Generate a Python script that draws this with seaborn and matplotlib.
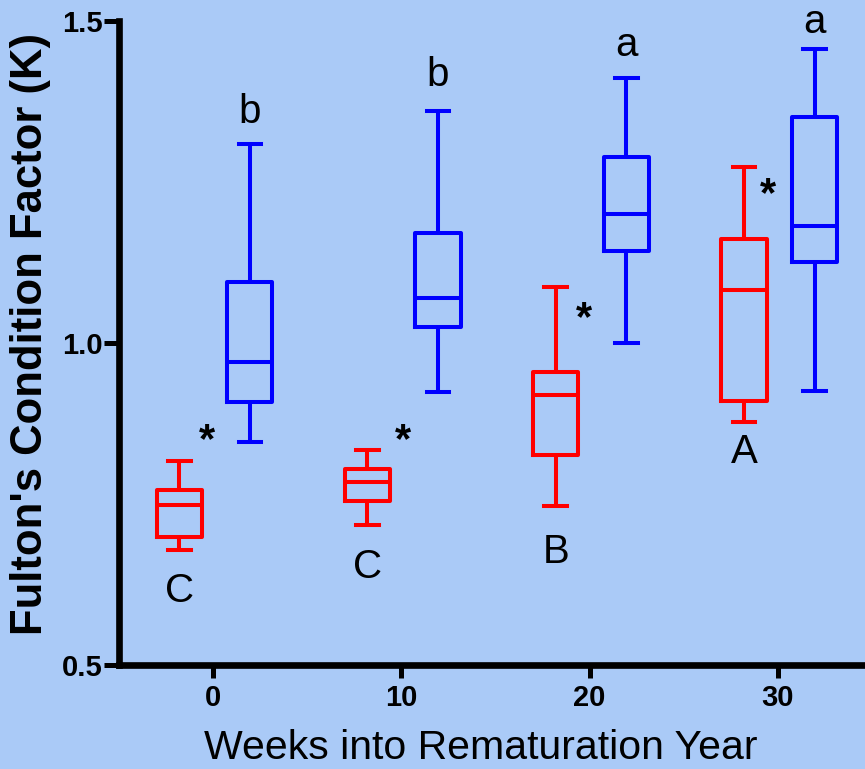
import numpy as np
import pandas as pd
import seaborn as sns
import matplotlib
matplotlib.use("Agg")
import matplotlib.pyplot as plt

# ---- data (five-number summaries) ----
weeks = [0, 10, 20, 30]
groups = ["Red", "Blue"]

red_min = [0.679, 0.717, 0.747, 0.878]
red_q1 = [0.699, 0.755, 0.826, 0.910]
red_med = [0.748, 0.784, 0.920, 1.082]
red_q3 = [0.772, 0.804, 0.955, 1.161]
red_max = [0.817, 0.834, 1.087, 1.274]

blue_min = [0.847, 0.924, 1.000, 0.926]
blue_q1 = [0.909, 1.025, 1.143, 1.126]
blue_med = [0.971, 1.070, 1.200, 1.181]
blue_q3 = [1.095, 1.171, 1.289, 1.351]
blue_max = [1.309, 1.360, 1.412, 1.457]

red_letters = ["C", "C", "B", "A"]
red_letter_y = [0.598, 0.635, 0.658, 0.813]
blue_letters = ["b", "b", "a", "a"]
blue_letter_y = [1.342, 1.399, 1.445, 1.481]
star_x = [-0.35, 10.1, 19.7, 29.5]
star_y = [0.830, 0.830, 1.020, 1.212]

xticks = [0, 10, 20, 30]
yticks = [0.5, 1.0, 1.5]
ytick_labels = ["0.5", "1.0", "1.5"]

# horizontal placement of each group's box relative to its week (style)
offsets = {"Red": -1.8, "Blue": 1.95}

rows = []
for g, stats in (("Red", (red_min, red_q1, red_med, red_q3, red_max)),
                 ("Blue", (blue_min, blue_q1, blue_med, blue_q3, blue_max))):
    for i, w in enumerate(weeks):
        for s in stats:
            rows.append({"week": w, "pos": w + offsets[g], "group": g, "K": s[i]})
df = pd.DataFrame(rows)

bg = "#AACAF7"
fig = plt.figure(figsize=(8.65, 7.69), dpi=100, facecolor=bg)
ax = fig.add_axes([119 / 865, 104 / 769, 753 / 865, 644 / 769])
ax.set_facecolor(bg)

sns.boxplot(data=df, x="pos", y="K", hue="group", hue_order=groups,
            palette={"Red": "#FF0000", "Blue": "#0000FF"},
            native_scale=True, dodge=False, width=2.4 / 3.75,
            whis=(0, 100), fill=False, linewidth=2.9, legend=False, ax=ax)

ax.set_xlim(-5, 35)
ax.set_ylim(0.5, 1.5)

for sp in ("top", "right"):
    ax.spines[sp].set_visible(False)
for sp in ("left", "bottom"):
    ax.spines[sp].set_linewidth(4.8)
    ax.spines[sp].set_color("black")

ax.tick_params(axis="x", length=9.5, width=3.6, pad=4, direction="out", labelsize=21)
ax.tick_params(axis="y", length=10.5, width=3.6, pad=1.5, direction="out", labelsize=21)
ax.set_xticks(xticks)
ax.set_xticklabels([str(t) for t in xticks])
ax.set_yticks(yticks)
ax.set_yticklabels(ytick_labels)
for lab in ax.get_xticklabels() + ax.get_yticklabels():
    lab.set_fontfamily("Liberation Sans")
    lab.set_fontweight("bold")
    lab.set_fontsize(21)

ax.set_xlabel("Weeks into Rematuration Year", family="Liberation Sans", size=29.5)
ax.xaxis.set_label_coords((481 - 119) / 753, -(759 - 665) / 644)
ax.xaxis.label.set_va("baseline")
ax.set_ylabel("Fulton's Condition Factor (K)", family="Liberation Sans",
              weight="bold", size=31.4)
ax.yaxis.set_label_coords(-(119 - 31) / 753, (665 - 334) / 644)
ax.yaxis.label.set_va("center")

for i, w in enumerate(weeks):
    ax.text(w + offsets["Red"], red_letter_y[i], red_letters[i], ha="center",
            va="baseline", family="Liberation Sans", size=29)
    ax.text(w + offsets["Blue"], blue_letter_y[i], blue_letters[i], ha="center",
            va="baseline", family="Liberation Sans", size=29)
    ax.text(star_x[i], star_y[i], "*", ha="center", va="baseline",
            family="Liberation Sans", weight="bold", size=30)

fig.savefig("out.png", dpi=100, facecolor=bg)
